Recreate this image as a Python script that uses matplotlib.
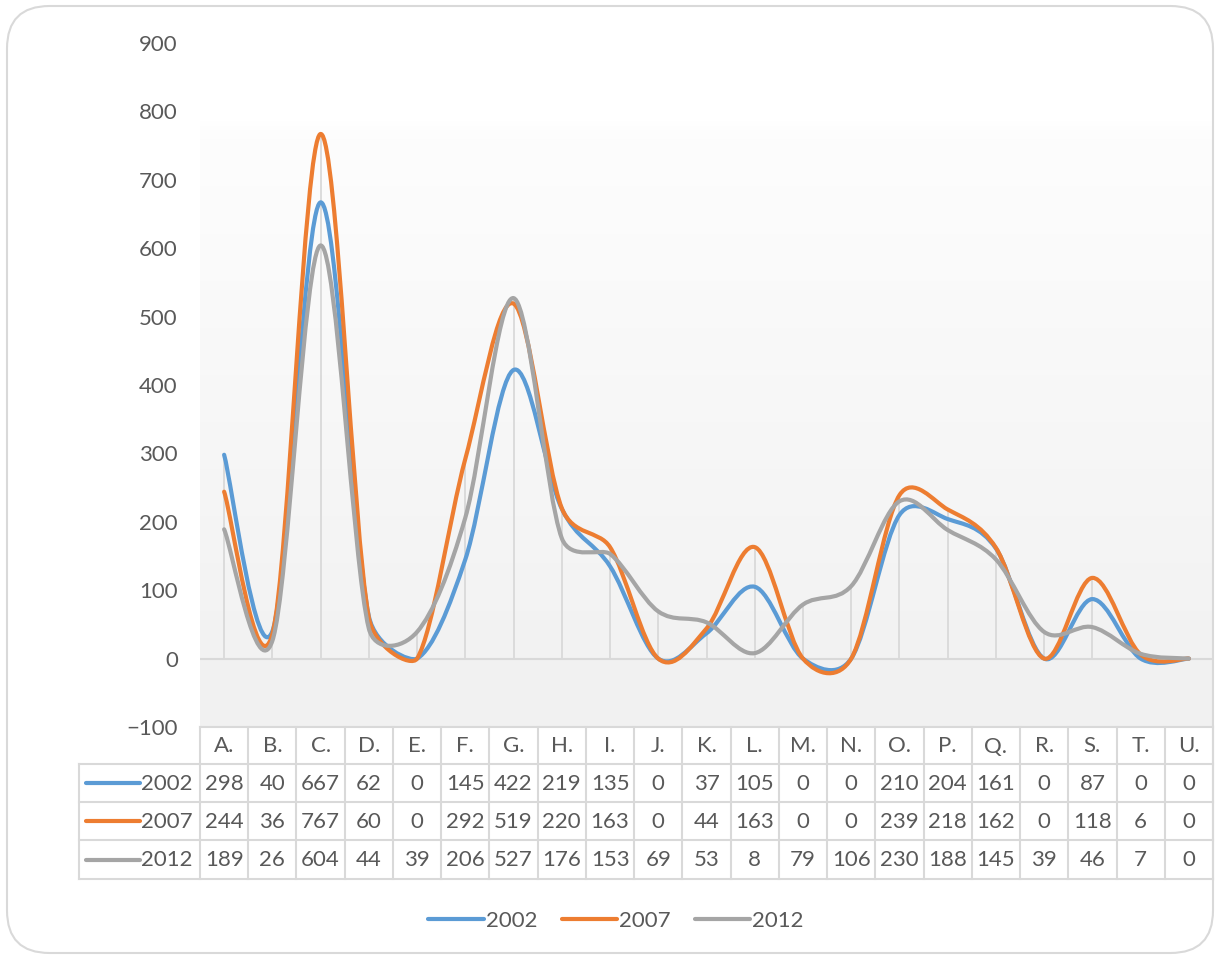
import numpy as np
import matplotlib
matplotlib.use("Agg")
import matplotlib.pyplot as plt
from matplotlib.path import Path
from matplotlib.patches import PathPatch, FancyBboxPatch
from matplotlib.lines import Line2D

categories = ["A.", "B.", "C.", "D.", "E.", "F.", "G.", "H.", "I.", "J.", "K.",
              "L.", "M.", "N.", "O.", "P.", "Q.", "R.", "S.", "T.", "U."]
series_names = ["2002", "2007", "2012"]
v2002 = [298, 40, 667, 62, 0, 145, 422, 219, 135, 0, 37, 105, 0, 0, 210, 204, 161, 0, 87, 0, 0]
v2007 = [244, 36, 767, 60, 0, 292, 519, 220, 163, 0, 44, 163, 0, 0, 239, 218, 162, 0, 118, 6, 0]
v2012 = [189, 26, 604, 44, 39, 206, 527, 176, 153, 69, 53, 8, 79, 106, 230, 188, 145, 39, 46, 7, 0]
yticks = [-100, 0, 100, 200, 300, 400, 500, 600, 700, 800, 900]

series = [v2002, v2007, v2012]
colors = ["#5B9BD5", "#ED7D31", "#A5A5A5"]
txt_color = "#595959"
grid_color = "#D9D9D9"
FONT = ["Lato", "DejaVu Sans"]
plt.rcParams["font.family"] = FONT
FS = 16

W, H = 1216, 956
fig = plt.figure(figsize=(W / 100, H / 100), dpi=100)

# outer rounded border
fig.patches.append(FancyBboxPatch((7 / W, 1 - 953 / H), (1213 - 7) / W, (953 - 6) / H,
                                  boxstyle="round,pad=0,rounding_size=0.035",
                                  transform=fig.transFigure, fc="none", ec=grid_color,
                                  lw=1.5, mutation_aspect=W / H, zorder=10))

# main axes
L, R, T, B = 200, 1213, 43, 727
ax = fig.add_axes([L / W, 1 - B / H, (R - L) / W, (B - T) / H])
n = len(categories)
x = np.arange(n)
ax.set_xlim(-0.5, n - 0.5)
ax.set_ylim(-100, 900)
for s in ax.spines.values():
    s.set_visible(False)
ax.set_xticks([])
ax.set_yticks(yticks)
ax.tick_params(axis="y", length=0, pad=16, labelsize=FS, labelcolor=txt_color)

# background gradient
ys = np.linspace(900, -100, 400)
shade = np.interp(ys, [-100, 0, 775, 785, 900], [0.949, 0.949, 0.993, 1.0, 1.0])
img = np.repeat(shade[:, None], 2, axis=1)
ax.imshow(np.dstack([img, img, img]), extent=(-0.5, n - 0.5, -100, 900),
          aspect="auto", zorder=0, interpolation="bilinear")

# zero line and drop lines
ax.axhline(0, color=grid_color, lw=1.5, zorder=1)
maxv = np.max(np.array(series), axis=0)
ax.vlines(x, 0, maxv, color=grid_color, lw=1.3, zorder=1)

ppu = (R - L) / n          # pixels per category
ppv = (B - T) / 1000.0     # pixels per value unit


def smooth_path(xv, yv):
    # Excel-like smoothed line (Bezier, tension 1/6, control length capped)
    P = np.column_stack([np.asarray(xv, float) * ppu, np.asarray(yv, float) * ppv])
    Pe = np.vstack([P[0], P, P[-1]])
    verts = [P[0]]
    codes = [Path.MOVETO]
    for i in range(len(P) - 1):
        p0, p1, p2, p3 = Pe[i], Pe[i + 1], Pe[i + 2], Pe[i + 3]
        d02 = np.hypot(*(p2 - p0))
        d12 = np.hypot(*(p2 - p1))
        d13 = np.hypot(*(p3 - p1))
        a = d02 / 6 >= d12 / 2
        b = d13 / 6 >= d12 / 2
        if not a and not b:
            f1 = f2 = 1 / 6
        elif a and b:
            f1 = d12 / 2 / d02
            f2 = d12 / 2 / d13
        elif a:
            f1 = f2 = d12 / 2 / d02
        else:
            f1 = f2 = d12 / 2 / d13
        c1 = p1 + (p2 - p0) * f1
        c2 = p2 - (p3 - p1) * f2
        verts += [c1, c2, p2]
        codes += [Path.CURVE4] * 3
    V = np.array(verts)
    V[:, 0] /= ppu
    V[:, 1] /= ppv
    return Path(V, codes)


for vals, c in zip(series, colors):
    ax.add_patch(PathPatch(smooth_path(x, vals), fc="none", ec=c, lw=3,
                           capstyle="round", joinstyle="round", zorder=3))

# data table
TL, TB = 79, 879
tax = fig.add_axes([TL / W, 1 - TB / H, (R - TL) / W, (TB - B) / H])
x_left = -0.5 - (L - TL) / ppu
tax.set_xlim(x_left, n - 0.5)
rows_y = [727, 764, 802, 840, 879]
tax.set_ylim(TB, B)
tax.axis("off")
lc = grid_color
lw = 1.5
tax.plot([-0.5, n - 0.5], [rows_y[0]] * 2, color=lc, lw=lw, clip_on=False)
for yy in rows_y[1:]:
    tax.plot([x_left, n - 0.5], [yy] * 2, color=lc, lw=lw, clip_on=False)
for k in range(n + 1):
    tax.plot([k - 0.5] * 2, [rows_y[0], rows_y[-1]], color=lc, lw=lw, clip_on=False)
tax.plot([x_left] * 2, [rows_y[1], rows_y[-1]], color=lc, lw=lw, clip_on=False)

for i, cat in enumerate(categories):
    tax.text(i, (rows_y[0] + rows_y[1]) / 2 + 1, cat, ha="center", va="center",
             fontsize=FS, color=txt_color)
for r, (vals, c, name) in enumerate(zip(series, colors, series_names)):
    yc = (rows_y[r + 1] + rows_y[r + 2]) / 2
    for i, v in enumerate(vals):
        tax.text(i, yc + 1, str(v), ha="center", va="center", fontsize=FS, color=txt_color)
    tax.plot([x_left + 7 / ppu, x_left + 61 / ppu], [yc, yc], color=c, lw=3,
             solid_capstyle="round", clip_on=False)
    tax.text(-0.5 - 7 / ppu, yc + 1, name, ha="right", va="center", fontsize=FS,
             color=txt_color)

# legend
handles = [Line2D([], [], color=c, lw=3, solid_capstyle="round") for c in colors]
fig.legend(handles, series_names, loc="center", ncol=3,
           bbox_to_anchor=(616 / W, 1 - 921 / H), frameon=False, fontsize=FS,
           labelcolor=txt_color, handlelength=2.5, handletextpad=0.08,
           columnspacing=1.1)

fig.savefig("out.png", dpi=100)
